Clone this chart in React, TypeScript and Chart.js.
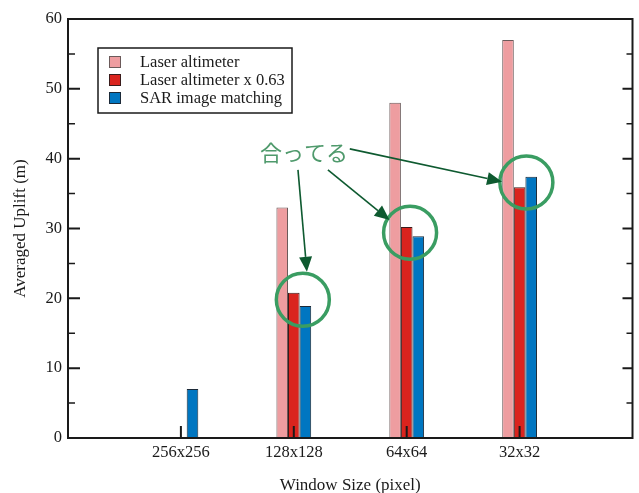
import React, { useEffect, useRef } from 'react';
import { Chart, registerables } from 'chart.js';

Chart.register(...registerables);

// ---- data ----
const categories = ['', '256x256', '128x128', '64x64', '32x32', ''];
const seriesLabels = ['Laser altimeter', 'Laser altimeter x 0.63', 'SAR image matching'];
const laserAltimeter = [null, 0, 33, 48, 57, null];
const laserScaled = [null, 0, 20.8, 30.2, 35.9, null];
const sarMatching = [null, 7, 18.9, 28.9, 37.4, null];
const yTickValues = [0, 10, 20, 30, 40, 50, 60];
const xTickIndices = [1, 2, 3, 4];

// ---- annotation (data coordinates: category index, value) ----
const annotationText = '合ってる';
const annotationTextAt = [2.09, 40.9];
const circleCenters = [
  [2.08, 19.8],
  [3.03, 29.4],
  [4.06, 36.6],
];
const arrows = [
  [[2.037, 38.4], [2.116, 23.8]],
  [[2.302, 38.4], [2.848, 31.2]],
  [[2.496, 41.4], [3.845, 36.7]],
];

const FILL = ['#EE9DA0', '#DA241E', '#0076C1'];
const EDGE = ['#6b5a5a', '#3a1c1c', '#1c2a38'];
const INK = '#1a1a1a';
const SERIF = "'Liberation Serif', 'Times New Roman', serif";

const framePlugin = {
  id: 'framePlugin',
  afterDatasetsDraw(chart: any) {
    const { ctx, chartArea, scales } = chart;
    const { left, right, top, bottom } = chartArea;
    const x = scales.x;
    const y = scales.y;
    ctx.save();
    ctx.strokeStyle = INK;
    // y ticks (major + minor midpoints), both sides, inward
    for (let i = 0; i < yTickValues.length; i++) {
      const v = yTickValues[i];
      const py = y.getPixelForValue(v);
      ctx.lineWidth = 2;
      ctx.beginPath();
      ctx.moveTo(left, py);
      ctx.lineTo(left + 12, py);
      ctx.moveTo(right, py);
      ctx.lineTo(right - 10, py);
      ctx.stroke();
      if (i < yTickValues.length - 1) {
        const m = y.getPixelForValue((v + yTickValues[i + 1]) / 2);
        ctx.lineWidth = 1.5;
        ctx.beginPath();
        ctx.moveTo(left, m);
        ctx.lineTo(left + 7, m);
        ctx.moveTo(right, m);
        ctx.lineTo(right - 6, m);
        ctx.stroke();
      }
    }
    // x ticks inward
    ctx.lineWidth = 2;
    for (const idx of xTickIndices) {
      const px = x.getPixelForValue(idx);
      ctx.beginPath();
      ctx.moveTo(px, bottom);
      ctx.lineTo(px, bottom - 12);
      ctx.stroke();
    }
    // frame
    ctx.lineWidth = 2;
    ctx.strokeRect(left, top, right - left, bottom - top);

    // annotation circles
    ctx.strokeStyle = '#3A9D62';
    ctx.lineWidth = 3.5;
    for (const [cx, cy] of circleCenters) {
      ctx.beginPath();
      ctx.arc(x.getPixelForValue(cx), y.getPixelForValue(cy), 26.5, 0, Math.PI * 2);
      ctx.stroke();
    }
    // arrows
    ctx.strokeStyle = '#0E5A30';
    ctx.fillStyle = '#0E5A30';
    ctx.lineWidth = 1.6;
    for (const [[sx, sy], [ex, ey]] of arrows) {
      const x0 = x.getPixelForValue(sx);
      const y0 = y.getPixelForValue(sy);
      const x1 = x.getPixelForValue(ex);
      const y1 = y.getPixelForValue(ey);
      const ang = Math.atan2(y1 - y0, x1 - x0);
      const headL = 15;
      const headW = 6.5;
      const bx = x1 - headL * Math.cos(ang);
      const by = y1 - headL * Math.sin(ang);
      ctx.beginPath();
      ctx.moveTo(x0, y0);
      ctx.lineTo(bx, by);
      ctx.stroke();
      ctx.beginPath();
      ctx.moveTo(x1, y1);
      ctx.lineTo(bx + headW * Math.sin(ang), by - headW * Math.cos(ang));
      ctx.lineTo(bx - headW * Math.sin(ang), by + headW * Math.cos(ang));
      ctx.closePath();
      ctx.fill();
    }
    // annotation text
    ctx.fillStyle = '#4F9A6C';
    ctx.font = "22px 'Noto Sans CJK JP', sans-serif";
    ctx.textAlign = 'center';
    ctx.textBaseline = 'middle';
    ctx.fillText(annotationText, x.getPixelForValue(annotationTextAt[0]), y.getPixelForValue(annotationTextAt[1]));

    // legend
    const lx = left + 30;
    const ly = top + 29;
    ctx.fillStyle = '#ffffff';
    ctx.fillRect(lx, ly, 194, 65);
    ctx.strokeStyle = INK;
    ctx.lineWidth = 1.5;
    ctx.strokeRect(lx, ly, 194, 65);
    ctx.font = `16.5px ${SERIF}`;
    ctx.textAlign = 'left';
    ctx.textBaseline = 'middle';
    chart.data.datasets.forEach((ds: any, i: number) => {
      const cy = ly + 14 + i * 18;
      ctx.fillStyle = ds.backgroundColor;
      ctx.fillRect(lx + 11, cy - 6, 12, 12);
      ctx.strokeStyle = ds.borderColor;
      ctx.lineWidth = 1;
      ctx.strokeRect(lx + 11.5, cy - 5.5, 11, 11);
      ctx.fillStyle = INK;
      ctx.fillText(ds.label, lx + 42, cy + 1);
    });
    ctx.restore();
  },
};

export default function App() {
  const canvasRef = useRef<HTMLCanvasElement | null>(null);

  useEffect(() => {
    if (!canvasRef.current) return;
    const seriesData = [laserAltimeter, laserScaled, sarMatching];
    const chart = new Chart(canvasRef.current, {
      type: 'bar',
      data: {
        labels: categories,
        datasets: seriesData.map((d, i) => ({
          label: seriesLabels[i],
          data: d,
          backgroundColor: FILL[i],
          borderColor: EDGE[i],
          borderWidth: 1,
          borderSkipped: 'start',
          categoryPercentage: 0.308,
          barPercentage: 1,
        })),
      },
      options: {
        animation: false,
        responsive: false,
        devicePixelRatio: 1,
        layout: { padding: { left: 0, right: 2, top: 19, bottom: 0 } },
        plugins: {
          legend: { display: false },
          tooltip: { enabled: false },
        },
        scales: {
          x: {
            type: 'category',
            offset: false,
            grid: { display: false, drawTicks: false },
            border: { display: false },
            ticks: {
              autoSkip: false,
              maxRotation: 0,
              padding: 6.5,
              color: INK,
              font: { family: SERIF, size: 16.5, lineHeight: 1 },
            },
            title: {
              display: true,
              text: 'Window Size (pixel)',
              color: INK,
              font: { family: SERIF, size: 17, lineHeight: 1 },
              padding: { top: 0, bottom: -1 },
            },
            afterFit: (s: any) => {
              s.height = 55;
            },
          },
          y: {
            min: 0,
            max: 60,
            grid: { display: false, drawTicks: false },
            border: { display: false },
            ticks: {
              stepSize: 10,
              padding: 6,
              color: INK,
              font: { family: SERIF, size: 16.5, lineHeight: 1 },
            },
            title: {
              display: true,
              text: 'Averaged Uplift (m)',
              color: INK,
              font: { family: SERIF, size: 17, lineHeight: 1 },
              padding: { top: 12.5, bottom: 0 },
            },
            afterFit: (s: any) => {
              s.width = 68;
            },
          },
        },
      },
      plugins: [framePlugin],
    });
    return () => chart.destroy();
  }, []);

  return (
    <div style={{ position: 'fixed', left: 0, top: 0, width: 639, height: 493, background: '#fff' }}>
      <canvas ref={canvasRef} width={639} height={493} style={{ display: 'block', width: 639, height: 493 }} />
    </div>
  );
}
